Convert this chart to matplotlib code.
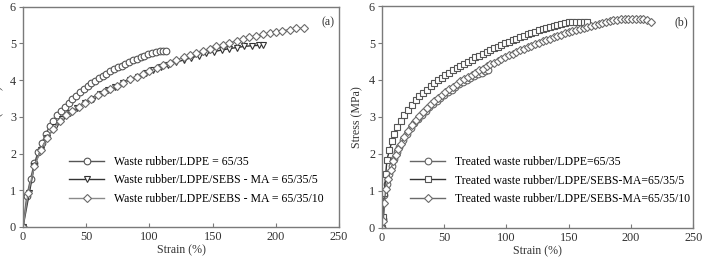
import matplotlib.pyplot as plt

plt.rcParams['font.family'] = ['Liberation Serif', 'DejaVu Serif']

# panel (a)
a1_x = [0, 3, 6, 9, 12, 15, 18, 21, 24, 27, 30, 33, 36, 39, 42, 45, 48, 51, 54, 57, 60,
        63, 66, 69, 72, 75, 78, 81, 84, 87, 90, 93, 96, 99, 102, 105, 108, 111, 113]
a1_y = [0, 0.84, 1.31, 1.74, 2.04, 2.3, 2.53, 2.74, 2.9, 3.04, 3.16, 3.28, 3.39, 3.49, 3.58,
        3.67, 3.76, 3.84, 3.92, 3.99, 4.06, 4.12, 4.18, 4.24, 4.3, 4.35, 4.4, 4.45, 4.5,
        4.55, 4.59, 4.63, 4.67, 4.71, 4.75, 4.77, 4.79, 4.8, 4.8]
a2_x = [0, 5, 9, 14, 19, 25, 31, 37, 43, 49, 55, 61, 67, 73, 79, 85, 91, 97, 103, 109,
        115, 121, 127, 133, 139, 145, 151, 157, 163, 169, 175, 181, 187, 190]
a2_y = [0, 0.93, 1.67, 2.1, 2.42, 2.72, 2.93, 3.1, 3.25, 3.38, 3.5, 3.62, 3.72, 3.82, 3.92,
        4.01, 4.1, 4.19, 4.27, 4.35, 4.42, 4.49, 4.55, 4.61, 4.67, 4.73, 4.78, 4.82, 4.86,
        4.89, 4.92, 4.94, 4.95, 4.95]
a3_x = [0, 4, 9, 14, 19, 24, 29, 34, 39, 44, 49, 54, 59, 64, 69, 74, 79, 85, 90, 95, 100,
        106, 111, 116, 121, 127, 132, 137, 142, 148, 153, 158, 163, 169, 174, 179, 184,
        190, 195, 200, 205, 211, 216, 222]
a3_y = [0, 0.92, 1.65, 2.1, 2.42, 2.68, 2.88, 3.04, 3.17, 3.28, 3.39, 3.49, 3.59, 3.68,
        3.77, 3.85, 3.93, 4.02, 4.1, 4.18, 4.26, 4.34, 4.41, 4.48, 4.55, 4.62, 4.68, 4.74,
        4.8, 4.86, 4.92, 4.97, 5.02, 5.07, 5.12, 5.17, 5.21, 5.25, 5.29, 5.32, 5.35, 5.38,
        5.41, 5.42]

# panel (b)
b1_x = [0, 1, 2, 4, 6, 8, 10, 12, 14, 17, 20, 23, 26, 29, 32, 35, 38, 41, 44, 47, 50, 53,
        56, 59, 62, 65, 68, 71, 74, 77, 80, 83, 85]
b1_y = [0, 0.25, 0.9, 1.2, 1.45, 1.68, 1.87, 2.04, 2.18, 2.38, 2.55, 2.7, 2.83, 2.95, 3.06,
        3.16, 3.26, 3.35, 3.44, 3.52, 3.6, 3.67, 3.74, 3.81, 3.88, 3.94, 4.0, 4.05, 4.1,
        4.15, 4.2, 4.25, 4.28]
b2_x = [0, 1, 2, 3, 4, 6, 8, 10, 12, 15, 18, 21, 24, 27, 30, 33, 36, 39, 42, 45, 48, 51,
        54, 57, 60, 63, 66, 69, 72, 75, 78, 81, 84, 87, 90, 93, 96, 99, 102, 105, 108, 111,
        114, 117, 120, 123, 126, 129, 132, 135, 138, 141, 144, 147, 150, 153, 156, 159,
        162, 165]
b2_y = [0, 0.3, 0.95, 1.45, 1.85, 2.1, 2.35, 2.55, 2.72, 2.9, 3.05, 3.2, 3.33, 3.45, 3.56,
        3.65, 3.74, 3.83, 3.91, 3.99, 4.06, 4.13, 4.2, 4.26, 4.32, 4.38, 4.44, 4.5, 4.55,
        4.61, 4.66, 4.71, 4.76, 4.81, 4.86, 4.9, 4.95, 4.99, 5.04, 5.08, 5.12, 5.16, 5.2,
        5.24, 5.28, 5.31, 5.35, 5.38, 5.41, 5.44, 5.47, 5.5, 5.52, 5.54, 5.56, 5.57, 5.58,
        5.58, 5.58, 5.57]
b3_x = [0, 1, 2, 3, 5, 7, 9, 11, 13, 15, 18, 21, 24, 27, 30, 33, 36, 39, 42, 45, 48, 51,
        54, 57, 60, 63, 66, 69, 72, 75, 78, 81, 84, 87, 90, 93, 96, 99, 102, 105, 108, 111,
        114, 117, 120, 123, 126, 129, 132, 135, 138, 141, 144, 147, 150, 153, 156, 159,
        162, 165, 168, 171, 174, 177, 180, 183, 186, 189, 192, 195, 198, 201, 204, 207,
        210, 213, 216]
b3_y = [0, 0.2, 0.68, 1.05, 1.33, 1.58, 1.8, 1.98, 2.14, 2.28, 2.47, 2.63, 2.78, 2.91,
        3.03, 3.14, 3.24, 3.34, 3.43, 3.52, 3.6, 3.68, 3.75, 3.82, 3.89, 3.96, 4.02, 4.08,
        4.14, 4.2, 4.26, 4.31, 4.37, 4.42, 4.47, 4.52, 4.57, 4.62, 4.67, 4.71, 4.76, 4.8,
        4.85, 4.89, 4.93, 4.97, 5.01, 5.05, 5.09, 5.12, 5.16, 5.19, 5.23, 5.26, 5.29, 5.32,
        5.35, 5.38, 5.41, 5.44, 5.47, 5.5, 5.52, 5.55, 5.57, 5.59, 5.61, 5.63, 5.64, 5.65,
        5.66, 5.66, 5.66, 5.65, 5.64, 5.62, 5.58]

labels_a = ['Waste rubber/LDPE = 65/35',
            'Waste rubber/LDPE/SEBS - MA = 65/35/5',
            'Waste rubber/LDPE/SEBS - MA = 65/35/10']
labels_b = ['Treated waste rubber/LDPE=65/35',
            'Treated waste rubber/LDPE/SEBS-MA=65/35/5',
            'Treated waste rubber/LDPE/SEBS-MA=65/35/10']

fig = plt.figure(figsize=(7.04, 2.62), dpi=100)
axA = fig.add_axes([0.0327, 0.134, 0.449, 0.84])
axB = fig.add_axes([0.5426, 0.130, 0.4420, 0.847])

def style(ax, tag):
  ax.set_xlim(0, 250)
  ax.set_ylim(0, 6)
  ax.set_xticks([0, 50, 100, 150, 200, 250])
  ax.set_yticks([0, 1, 2, 3, 4, 5, 6])
  for s in ax.spines.values():
    s.set_color('#7a7a7a')
    s.set_linewidth(1.0)
  ax.tick_params(axis='x', direction='in', length=3, color='#7a7a7a', labelsize=8.8,
                 pad=3, labelcolor='#333333')
  ax.tick_params(axis='y', direction='out', length=3, color='#7a7a7a', labelsize=8.8,
                 pad=2, labelcolor='#333333')
  ax.set_xlabel('Strain (%)', fontsize=8.6, labelpad=1, color='#333333')
  ax.set_ylabel('Stress (MPa)', fontsize=8.6, labelpad=4, color='#333333')
  ax.text(0.985, 0.955, tag, transform=ax.transAxes, ha='right', va='top', fontsize=8.6,
          color='#333333')

mk = dict(mfc='white', ms=4.8, mew=0.8, lw=1.0)
axA.plot(a1_x, a1_y, marker='o', color='#555555', mec='#555555', label=labels_a[0], **mk)
axA.plot(a2_x, a2_y, marker='v', color='#333333', mec='#333333', label=labels_a[1], **mk)
axA.plot(a3_x, a3_y, marker='D', color='#8a8a8a', mec='#6a6a6a', label=labels_a[2],
         mfc='white', ms=4.0, mew=0.8, lw=1.0)
style(axA, '(a)')
axA.legend(loc='upper left', bbox_to_anchor=(0.13, 0.345), frameon=False, fontsize=8.5,
           handlelength=3.0, handletextpad=0.8, labelspacing=0.55, borderaxespad=0)

axB.plot(b1_x, b1_y, marker='o', color='#666666', mec='#666666', label=labels_b[0], **mk)
axB.plot(b2_x, b2_y, marker='s', color='#333333', mec='#555555', label=labels_b[1],
         mfc='white', ms=4.2, mew=0.8, lw=1.0)
axB.plot(b3_x, b3_y, marker='D', color='#6a6a6a', mec='#6a6a6a', label=labels_b[2],
         mfc='white', ms=4.0, mew=0.8, lw=1.0)
style(axB, '(b)')
axB.legend(loc='upper left', bbox_to_anchor=(0.075, 0.345), frameon=False, fontsize=8.5,
           handlelength=3.0, handletextpad=0.8, labelspacing=0.55, borderaxespad=0)

fig.savefig('out.png', dpi=100)
